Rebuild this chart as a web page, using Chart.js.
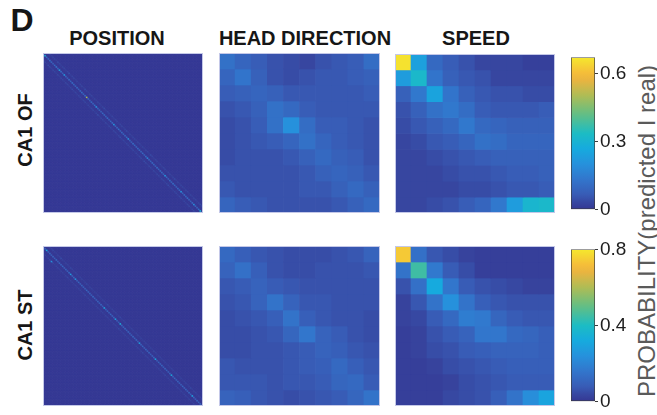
<!DOCTYPE html>
<html>
<head>
<meta charset="utf-8">
<script src="https://cdn.jsdelivr.net/npm/chart.js@4.4.1/dist/chart.umd.min.js"></script>
<style>
  body { margin: 0; background: #fff; }
  #fig { position: relative; width: 657px; height: 415px; overflow: hidden; font-family: "Liberation Sans", Arial, sans-serif; }
  .box { position: absolute; }
  .t { position: absolute; font-weight: bold; font-size: 20px; color: #161616; white-space: nowrap; transform: translateX(-50%); }
  .v { position: absolute; white-space: nowrap; transform: translate(-50%, -50%) rotate(-90deg); }
</style>
</head>
<body>
<div id="fig">
  <div class="t" style="left:22px;top:2px;font-size:32px">D</div>
  <div class="t" style="left:117px;top:27px">POSITION</div>
  <div class="t" style="left:305px;top:27px">HEAD DIRECTION</div>
  <div class="t" style="left:476px;top:27px">SPEED</div>
  <div class="v" style="left:25px;top:130px;font-weight:bold;font-size:20px;color:#161616">CA1 OF</div>
  <div class="v" style="left:25px;top:325px;font-weight:bold;font-size:20px;color:#161616">CA1 ST</div>
  <div class="v" style="left:647px;top:231px;font-size:24px;color:#5a5a5a">PROBABILITY(predicted I real)</div>

  <div class="box" style="left:43px;top:53px;width:160px;height:160px"><canvas id="posOf"></canvas></div>
  <div class="box" style="left:219px;top:53px;width:161px;height:160px"><canvas id="hdOf"></canvas></div>
  <div class="box" style="left:395px;top:54px;width:160px;height:159px"><canvas id="spOf"></canvas></div>
  <div class="box" style="left:43px;top:246px;width:160px;height:160px"><canvas id="posSt"></canvas></div>
  <div class="box" style="left:219px;top:246px;width:161px;height:160px"><canvas id="hdSt"></canvas></div>
  <div class="box" style="left:395px;top:246px;width:160px;height:160px"><canvas id="spSt"></canvas></div>
  <div class="box" style="left:571px;top:44px;width:60px;height:179px"><canvas id="cbOf"></canvas></div>
  <div class="box" style="left:571px;top:236px;width:60px;height:179px"><canvas id="cbSt"></canvas></div>
</div>

<script>
// colour scale limits and colorbar ticks for each row
const ofMax = 0.67;
const stMax = 0.8;
const ofTicks = [0, 0.3, 0.6];
const stTicks = [0, 0.4, 0.8];

// position decoding: 100 bins, diagonal plus the faint band 4 bins away
const posOffset = 4;
const posBase = 0.006;

const posOfDiag = [
  .12,.30,.10,.08,.11,.09,.07,.10,.12,.09,.25,.10,.08,.22,.09,.07,.10,.08,.11,.09,
  .08,.10,.07,.09,.11,.08,.10,.50,.09,.07,.10,.08,.11,.20,.09,.08,.07,.10,.09,.08,
  .11,.07,.09,.10,.22,.08,.09,.11,.07,.10,.08,.09,.10,.20,.08,.07,.11,.09,.08,.10,
  .09,.08,.10,.07,.11,.18,.09,.08,.10,.09,.07,.11,.08,.09,.10,.08,.22,.09,.07,.10,
  .08,.11,.09,.07,.10,.09,.20,.08,.10,.09,.11,.08,.07,.10,.20,.09,.08,.11,.30,.14
];
const posOfUp = [
  .03,.02,.03,.03,.02,.04,.03,.02,.03,.03,.02,.03,.05,.02,.03,.03,.02,.03,.02,.03,
  .03,.02,.04,.03,.02,.03,.03,.02,.03,.02,.03,.03,.02,.03,.04,.02,.03,.03,.02,.03,
  .02,.03,.03,.02,.03,.03,.02,.03,.04,.02,.03,.02,.03,.03,.02,.03,.03,.02,.03,.02,
  .03,.03,.02,.04,.03,.02,.03,.03,.02,.03,.02,.03,.03,.02,.03,.03,.02,.03,.04,.02,
  .03,.02,.03,.03,.02,.03,.03,.02,.03,.02,.03,.03,.02,.03,.04,.03
];
const posOfLow = [
  .03,.03,.02,.04,.03,.02,.03,.03,.02,.03,.02,.03,.03,.02,.03,.03,.02,.03,.04,.02,
  .03,.02,.03,.03,.02,.03,.03,.02,.03,.02,.03,.03,.02,.03,.04,.02,.03,.03,.02,.03,
  .02,.03,.03,.02,.03,.03,.02,.03,.04,.02,.03,.02,.03,.03,.02,.03,.03,.02,.03,.02,
  .03,.03,.02,.04,.03,.02,.03,.03,.02,.03,.02,.03,.03,.02,.03,.03,.02,.03,.04,.02,
  .03,.02,.03,.03,.02,.03,.03,.02,.03,.02,.03,.03,.02,.03,.03,.03
];

const posStDiag = [
  .12,.10,.32,.09,.11,.08,.10,.09,.12,.08,.10,.09,.11,.08,.10,.09,.12,.28,.09,.10,
  .26,.09,.11,.08,.10,.09,.08,.11,.09,.10,.08,.12,.09,.08,.10,.09,.11,.08,.30,.09,
  .10,.08,.11,.09,.10,.30,.09,.08,.34,.10,.09,.11,.08,.10,.09,.08,.11,.09,.10,.08,
  .30,.09,.10,.08,.11,.09,.10,.08,.09,.11,.32,.08,.10,.09,.11,.08,.10,.09,.08,.10,
  .33,.09,.11,.08,.10,.09,.08,.11,.09,.10,.08,.11,.09,.30,.10,.08,.11,.09,.10,.25
];
const posStUp = [
  .03,.03,.04,.03,.02,.03,.03,.05,.03,.02,.03,.03,.02,.04,.03,.02,.03,.03,.02,.03,
  .03,.02,.03,.04,.02,.03,.03,.02,.03,.02,.03,.03,.02,.03,.03,.02,.04,.03,.02,.03,
  .03,.03,.02,.03,.04,.02,.03,.03,.02,.03,.02,.03,.03,.02,.03,.03,.02,.03,.02,.03,
  .03,.02,.03,.03,.02,.04,.03,.02,.03,.03,.02,.03,.03,.02,.03,.02,.03,.03,.02,.03,
  .03,.02,.03,.02,.03,.03,.02,.03,.04,.02,.03,.03,.02,.03,.03,.03
];
const posStLow = [
  .03,.03,.02,.03,.04,.24,.03,.02,.03,.03,.02,.03,.03,.02,.03,.04,.02,.03,.03,.02,
  .03,.02,.03,.03,.02,.03,.04,.02,.03,.03,.02,.03,.02,.03,.03,.02,.03,.03,.02,.03,
  .03,.02,.03,.02,.03,.03,.02,.04,.03,.02,.03,.03,.02,.03,.02,.03,.03,.02,.03,.03,
  .02,.03,.04,.02,.03,.03,.02,.03,.02,.03,.03,.02,.03,.03,.02,.03,.04,.02,.03,.02,
  .03,.03,.02,.03,.03,.02,.03,.02,.03,.03,.02,.03,.03,.02,.03,.03
];

// head direction, 10 x 10 (rows = real bin, columns = predicted bin)
const hdOf = [
  [.12,.09,.07,.05,.04,.03,.05,.06,.07,.11],
  [.09,.13,.08,.05,.04,.05,.06,.06,.07,.08],
  [.07,.08,.09,.08,.06,.06,.06,.06,.06,.07],
  [.05,.06,.08,.12,.10,.07,.06,.06,.06,.06],
  [.04,.05,.07,.12,.20,.11,.07,.07,.06,.05],
  [.04,.05,.06,.07,.09,.12,.09,.07,.06,.05],
  [.04,.05,.05,.05,.06,.08,.10,.08,.07,.05],
  [.05,.05,.05,.05,.05,.06,.08,.09,.08,.06],
  [.06,.05,.05,.05,.05,.06,.06,.08,.10,.08],
  [.09,.07,.06,.05,.05,.05,.05,.06,.08,.10]
];
const hdSt = [
  [.12,.09,.07,.06,.05,.05,.05,.06,.07,.10],
  [.10,.14,.09,.06,.05,.05,.06,.06,.06,.07],
  [.07,.08,.10,.08,.07,.06,.06,.06,.06,.06],
  [.06,.07,.10,.15,.10,.07,.07,.06,.06,.06],
  [.05,.06,.07,.09,.15,.09,.07,.06,.06,.05],
  [.05,.05,.06,.07,.11,.16,.10,.08,.06,.05],
  [.05,.05,.06,.06,.07,.08,.10,.09,.07,.06],
  [.07,.06,.06,.06,.07,.08,.09,.12,.09,.07],
  [.07,.07,.07,.06,.07,.07,.08,.11,.12,.08],
  [.10,.09,.07,.06,.05,.06,.07,.08,.11,.15]
];

// speed, 10 x 10
const spOf = [
  [.66,.24,.10,.07,.05,.03,.03,.03,.02,.02],
  [.23,.32,.13,.08,.06,.05,.03,.03,.03,.03],
  [.08,.14,.25,.13,.08,.06,.05,.05,.04,.04],
  [.05,.08,.12,.14,.11,.07,.06,.06,.06,.07],
  [.04,.06,.08,.10,.14,.10,.09,.08,.08,.08],
  [.03,.04,.06,.07,.09,.12,.11,.09,.09,.09],
  [.03,.03,.04,.05,.06,.07,.08,.08,.08,.08],
  [.03,.03,.03,.04,.05,.05,.06,.07,.07,.08],
  [.03,.03,.03,.03,.04,.04,.05,.06,.06,.07],
  [.03,.03,.04,.05,.07,.09,.14,.23,.31,.32]
];
const spSt = [
  [.74,.14,.07,.05,.03,.02,.02,.02,.02,.02],
  [.15,.45,.17,.08,.05,.02,.02,.02,.02,.02],
  [.06,.14,.32,.16,.08,.06,.05,.04,.03,.03],
  [.03,.07,.15,.24,.15,.09,.07,.06,.06,.06],
  [.03,.04,.08,.12,.18,.17,.11,.08,.07,.07],
  [.02,.03,.06,.08,.10,.16,.16,.12,.11,.09],
  [.02,.03,.05,.06,.08,.09,.10,.10,.10,.09],
  [.02,.02,.03,.05,.06,.07,.08,.09,.09,.09],
  [.02,.02,.02,.03,.05,.06,.07,.08,.08,.08],
  [.02,.02,.02,.04,.05,.06,.09,.15,.23,.30]
];

// parula-like colormap
const cmapStops = [
  [0.00, [53, 54, 146]],
  [0.04, [55, 68, 158]],
  [0.10, [56, 92, 182]],
  [0.20, [50, 118, 204]],
  [0.30, [38, 145, 220]],
  [0.40, [22, 170, 222]],
  [0.50, [28, 188, 196]],
  [0.62, [95, 190, 135]],
  [0.75, [175, 188, 85]],
  [0.87, [245, 178, 60]],
  [1.00, [245, 232, 45]]
];

function parula(t) {
  t = Math.max(0, Math.min(1, t));
  for (let k = 1; k < cmapStops.length; k++) {
    const [t1, c1] = cmapStops[k];
    if (t <= t1) {
      const [t0, c0] = cmapStops[k - 1];
      const f = (t - t0) / (t1 - t0);
      const c = c0.map((v, i) => Math.round(v + (c1[i] - v) * f));
      return 'rgb(' + c.join(',') + ')';
    }
  }
  return 'rgb(245,232,45)';
}

function buildPosition(diag, up, low) {
  return diag.map((d, i) => diag.map((_, j) => {
    if (i === j) return d;
    if (j - i === posOffset) return up[i];
    if (i - j === posOffset) return low[j];
    return posBase;
  }));
}

const frame = {
  id: 'frame',
  afterDraw(chart) {
    const a = chart.chartArea;
    const ctx = chart.ctx;
    ctx.save();
    ctx.strokeStyle = '#c4c8e8';
    ctx.lineWidth = 1;
    ctx.strokeRect(a.left + 0.5, a.top + 0.5, a.right - a.left - 1, a.bottom - a.top - 1);
    ctx.restore();
  }
};

// each row of the matrix is one stacked dataset of unit-height bars
function heatmap(id, matrix, vmax) {
  const n = matrix.length;
  new Chart(document.getElementById(id), {
    type: 'bar',
    data: {
      labels: matrix[0].map((_, j) => j),
      datasets: matrix.map(row => ({
        data: row.map(() => 1),
        backgroundColor: row.map(v => parula(v / vmax)),
        borderWidth: 0,
        barPercentage: 1,
        categoryPercentage: 1
      }))
    },
    options: {
      animation: false,
      responsive: true,
      maintainAspectRatio: false,
      events: [],
      layout: { padding: 0 },
      plugins: { legend: { display: false }, tooltip: { enabled: false } },
      scales: {
        x: { stacked: true, display: false },
        y: { stacked: true, display: false, min: 0, max: n, reverse: true }
      }
    },
    plugins: [frame]
  });
}

function colorbar(id, vmax, ticks) {
  new Chart(document.getElementById(id), {
    type: 'bar',
    data: {
      labels: [''],
      datasets: [{
        data: [[0, vmax]],
        backgroundColor: ctx => {
          const a = ctx.chart.chartArea;
          if (!a) return parula(0);
          const g = ctx.chart.ctx.createLinearGradient(0, a.bottom, 0, a.top);
          for (let k = 0; k <= 20; k++) g.addColorStop(k / 20, parula(k / 20));
          return g;
        },
        borderColor: '#3c3c3c',
        borderWidth: 1,
        borderSkipped: false,
        barPercentage: 1,
        categoryPercentage: 1
      }]
    },
    options: {
      animation: false,
      responsive: true,
      maintainAspectRatio: false,
      events: [],
      layout: { padding: { top: 10, bottom: 10, left: 0, right: 0 } },
      plugins: { legend: { display: false }, tooltip: { enabled: false } },
      scales: {
        x: { display: false },
        y: {
          position: 'right',
          min: 0,
          max: vmax,
          afterBuildTicks: s => { s.ticks = ticks.map(v => ({ value: v })); },
          afterFit: s => { s.width = 36; },
          border: { display: false },
          grid: { drawOnChartArea: false, tickLength: 3, color: '#3c3c3c' },
          ticks: {
            padding: 2,
            color: '#1e1e1e',
            font: { family: '"Liberation Sans", Arial, sans-serif', size: 19 }
          }
        }
      }
    }
  });
}

heatmap('posOf', buildPosition(posOfDiag, posOfUp, posOfLow), ofMax);
heatmap('hdOf', hdOf, ofMax);
heatmap('spOf', spOf, ofMax);
heatmap('posSt', buildPosition(posStDiag, posStUp, posStLow), stMax);
heatmap('hdSt', hdSt, stMax);
heatmap('spSt', spSt, stMax);
colorbar('cbOf', ofMax, ofTicks);
colorbar('cbSt', stMax, stTicks);
</script>
</body>
</html>
